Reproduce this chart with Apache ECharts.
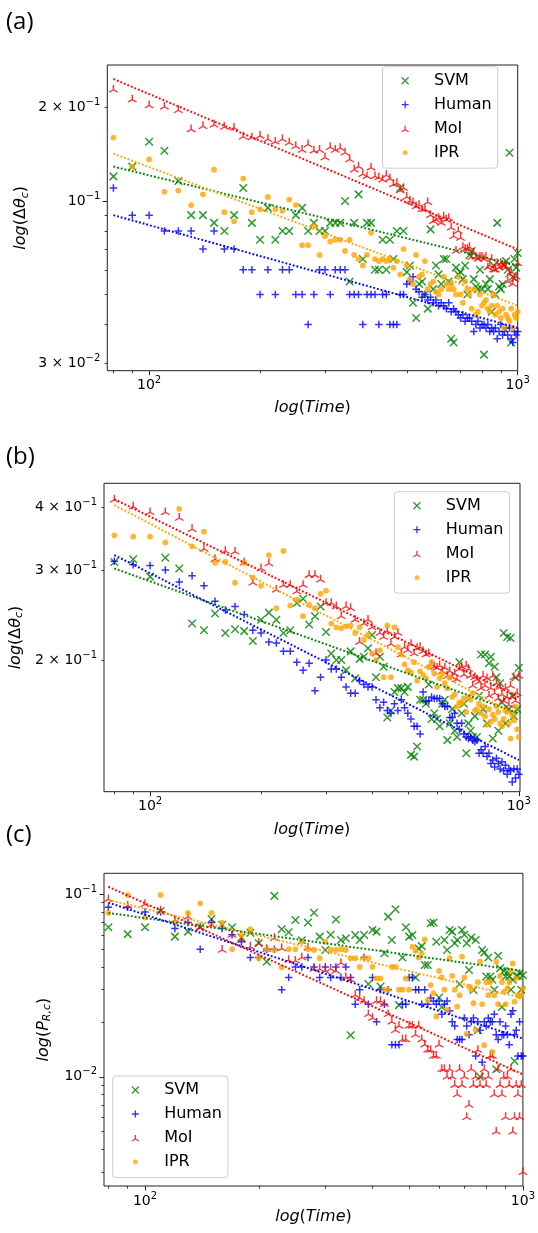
<!DOCTYPE html>
<html>
<head>
<meta charset="utf-8">
<script src="https://cdn.jsdelivr.net/npm/echarts@6/dist/echarts.min.js"></script>
<style>
html,body{margin:0;padding:0;background:#fff;}
#chart{width:538px;height:1233px;}
</style>
</head>
<body>
<div id="chart"></div>
<script>
// ---------------- DATA ----------------
const times = [
  80, 90, 100, 110, 120, 130, 140, 150, 160, 170,
  180, 190, 200, 210, 220, 230, 240, 250, 260, 270,
  280, 290, 300, 310, 320, 330, 340, 350, 360, 370,
  380, 390, 400, 410, 420, 430, 440, 450, 460, 470,
  480, 490, 500, 510, 520, 530, 540, 550, 560, 570,
  580, 590, 600, 610, 620, 630, 640, 650, 660, 670,
  680, 690, 700, 710, 720, 730, 740, 750, 760, 770,
  780, 790, 800, 810, 820, 830, 840, 850, 860, 870,
  880, 890, 900, 910, 920, 930, 940, 950, 960, 970,
  980, 990, 1000
];
const seriesNames = ['SVM', 'Human', 'MoI', 'IPR'];

// Panel (a): log(Δθc)
const svmA = [
  0.120, 0.129, 0.155, 0.145, 0.116, 0.090, 0.090, 0.085, 0.080, 0.090,
  0.110, 0.085, 0.075, 0.095, 0.075, 0.080, 0.080, 0.090, 0.095, 0.080,
  0.085, 0.080, 0.080, 0.085, 0.085, 0.085, 0.100, 0.055, 0.085, 0.105,
  0.065, 0.085, 0.085, 0.060, 0.060, 0.075, 0.060, 0.075, 0.065, 0.080,
  0.110, 0.080, 0.059, 0.062, 0.047, 0.042, 0.054, 0.055, 0.050, 0.045,
  0.081, 0.052, 0.062, 0.058, 0.054, 0.065, 0.065, 0.055, 0.036, 0.035,
  0.061, 0.058, 0.059, 0.056, 0.062, 0.050, 0.067, 0.069, 0.056, 0.053,
  0.052, 0.060, 0.052, 0.032, 0.054, 0.052, 0.056, 0.044, 0.062, 0.050,
  0.085, 0.053, 0.052, 0.054, 0.062, 0.064, 0.060, 0.143, 0.035, 0.057,
  0.065, 0.061, 0.068
];
const humanA = [
  0.110, 0.090, 0.090, 0.080, 0.080, 0.080, 0.070, 0.080, 0.070, 0.070,
  0.060, 0.060, 0.050, 0.060, 0.050, 0.060, 0.060, 0.050, 0.050, 0.040,
  0.050, 0.060, 0.060, 0.050, 0.060, 0.060, 0.060, 0.050, 0.050, 0.050,
  0.040, 0.050, 0.050, 0.050, 0.040, 0.050, 0.050, 0.040, 0.040, 0.040,
  0.050, 0.050, 0.054, 0.055, 0.057, 0.052, 0.051, 0.049, 0.050, 0.048,
  0.049, 0.047, 0.048, 0.046, 0.047, 0.046, 0.045, 0.047, 0.044, 0.045,
  0.044, 0.043, 0.042, 0.043, 0.041, 0.042, 0.042, 0.041, 0.038, 0.040,
  0.041, 0.039, 0.040, 0.040, 0.039, 0.040, 0.038, 0.039, 0.038, 0.039,
  0.036, 0.038, 0.040, 0.037, 0.038, 0.039, 0.037, 0.039, 0.036, 0.035,
  0.038, 0.037, 0.038
];
const moiA = [
  0.228, 0.212, 0.203, 0.201, 0.196, 0.170, 0.174, 0.176, 0.173, 0.172,
  0.161, 0.160, 0.162, 0.158, 0.155, 0.158, 0.154, 0.150, 0.146, 0.152,
  0.145, 0.146, 0.138, 0.149, 0.146, 0.148, 0.143, 0.136, 0.126, 0.129,
  0.122, 0.120, 0.128, 0.120, 0.119, 0.117, 0.121, 0.118, 0.113, 0.114,
  0.108, 0.110, 0.103, 0.100, 0.099, 0.096, 0.097, 0.094, 0.094, 0.099,
  0.090, 0.086, 0.087, 0.088, 0.085, 0.089, 0.087, 0.088, 0.082, 0.077,
  0.069, 0.080, 0.076, 0.071, 0.070, 0.070, 0.071, 0.066, 0.068, 0.066,
  0.065, 0.066, 0.066, 0.065, 0.066, 0.061, 0.062, 0.065, 0.060, 0.060,
  0.063, 0.061, 0.063, 0.062, 0.062, 0.061, 0.055, 0.058, 0.059, 0.054,
  0.056, 0.057, 0.063
];
const iprA = [
  0.160, 0.129, 0.136, 0.107, 0.108, 0.097, 0.105, 0.126, 0.092, 0.086,
  0.118, 0.092, 0.094, 0.103, 0.094, 0.093, 0.101, 0.097, 0.072, 0.072,
  0.083, 0.067, 0.077, 0.074, 0.075, 0.075, 0.069, 0.075, 0.067, 0.065,
  0.062, 0.067, 0.079, 0.065, 0.064, 0.065, 0.064, 0.065, 0.061, 0.064,
  0.058, 0.070, 0.062, 0.056, 0.054, 0.067, 0.057, 0.058, 0.064, 0.052,
  0.054, 0.055, 0.051, 0.050, 0.052, 0.057, 0.054, 0.052, 0.054, 0.052,
  0.050, 0.057, 0.050, 0.047, 0.055, 0.052, 0.050, 0.045, 0.052, 0.043,
  0.044, 0.050, 0.046, 0.047, 0.048, 0.045, 0.044, 0.046, 0.050, 0.043,
  0.046, 0.044, 0.042, 0.045, 0.039, 0.043, 0.042, 0.041, 0.045, 0.039,
  0.043, 0.042, 0.044
];
const svmTrendA = [0.129, 0.062];
const humanTrendA = [0.090, 0.039];
const moiTrendA = [0.247, 0.0698];
const iprTrendA = [0.142, 0.046];

// Panel (b): log(Δθc)
const svmB = [
  0.312, 0.316, 0.292, 0.318, 0.303, 0.236, 0.229, 0.247, 0.226, 0.230,
  0.228, 0.218, 0.240, 0.248, 0.240, 0.226, 0.229, 0.259, 0.264, 0.235,
  0.244, 0.255, 0.227, 0.206, 0.200, 0.200, 0.191, 0.208, 0.184, 0.201,
  0.203, 0.211, 0.224, 0.185, 0.203, 0.194, 0.154, 0.159, 0.173, 0.176,
  0.176, 0.173, 0.177, 0.130, 0.129, 0.135, 0.167, 0.167, 0.164, 0.179,
  0.153, 0.157, 0.153, 0.148, 0.164, 0.167, 0.139, 0.150, 0.160, 0.145,
  0.141, 0.198, 0.157, 0.164, 0.131, 0.150, 0.145, 0.141, 0.155, 0.141,
  0.170, 0.205, 0.160, 0.205, 0.150, 0.197, 0.203, 0.140, 0.194, 0.185,
  0.145, 0.180, 0.165, 0.226, 0.150, 0.222, 0.160, 0.221, 0.170, 0.155,
  0.185, 0.160, 0.193
];
const humanB = [
  0.313, 0.308, 0.307, 0.301, 0.285, 0.293, 0.280, 0.261, 0.251, 0.255,
  0.246, 0.229, 0.226, 0.217, 0.216, 0.208, 0.208, 0.198, 0.191, 0.197,
  0.174, 0.185, 0.200, 0.192, 0.192, 0.185, 0.177, 0.172, 0.172, 0.182,
  0.179, 0.177, 0.177, 0.167, 0.161, 0.165, 0.159, 0.157, 0.164, 0.159,
  0.167, 0.161, 0.157, 0.153, 0.148, 0.148, 0.143, 0.173, 0.166, 0.166,
  0.169, 0.168, 0.168, 0.168, 0.164, 0.162, 0.162, 0.154, 0.154, 0.157,
  0.150, 0.146, 0.150, 0.143, 0.141, 0.140, 0.141, 0.139, 0.138, 0.139,
  0.131, 0.133, 0.131, 0.135, 0.129, 0.131, 0.125, 0.127, 0.123, 0.128,
  0.125, 0.122, 0.126, 0.121, 0.124, 0.119, 0.122, 0.121, 0.115, 0.122,
  0.117, 0.122, 0.119
];
const moiB = [
  0.414, 0.401, 0.391, 0.391, 0.381, 0.362, 0.331, 0.316, 0.328, 0.327,
  0.311, 0.284, 0.303, 0.310, 0.275, 0.281, 0.281, 0.273, 0.281, 0.294,
  0.294, 0.288, 0.259, 0.259, 0.255, 0.244, 0.255, 0.253, 0.240, 0.217,
  0.236, 0.240, 0.232, 0.206, 0.226, 0.222, 0.228, 0.215, 0.222, 0.226,
  0.205, 0.212, 0.209, 0.215, 0.206, 0.211, 0.212, 0.208, 0.205, 0.206,
  0.196, 0.194, 0.193, 0.195, 0.190, 0.193, 0.186, 0.190, 0.185, 0.188,
  0.183, 0.192, 0.194, 0.187, 0.195, 0.192, 0.186, 0.178, 0.185, 0.183,
  0.181, 0.176, 0.186, 0.178, 0.184, 0.170, 0.176, 0.186, 0.172, 0.180,
  0.168, 0.177, 0.171, 0.166, 0.176, 0.169, 0.163, 0.178, 0.169, 0.185,
  0.166, 0.172, 0.186
];
const iprB = [
  0.352, 0.350, 0.350, 0.341, 0.397, 0.335, 0.358, 0.311, 0.312, 0.284,
  0.311, 0.291, 0.280, 0.322, 0.253, 0.328, 0.256, 0.263, 0.244, 0.257,
  0.253, 0.270, 0.274, 0.236, 0.232, 0.231, 0.233, 0.234, 0.226, 0.232,
  0.219, 0.224, 0.206, 0.200, 0.209, 0.185, 0.234, 0.185, 0.232, 0.212,
  0.205, 0.196, 0.191, 0.189, 0.198, 0.182, 0.190, 0.187, 0.184, 0.194,
  0.198, 0.188, 0.177, 0.184, 0.188, 0.180, 0.176, 0.185, 0.169, 0.171,
  0.162, 0.165, 0.164, 0.168, 0.158, 0.169, 0.167, 0.172, 0.159, 0.160,
  0.164, 0.157, 0.162, 0.155, 0.149, 0.160, 0.151, 0.156, 0.153, 0.162,
  0.158, 0.150, 0.148, 0.153, 0.159, 0.158, 0.150, 0.140, 0.156, 0.152,
  0.162, 0.146, 0.141
];
const svmTrendB = [0.303, 0.157];
const humanTrendB = [0.322, 0.127];
const moiTrendB = [0.415, 0.169];
const iprTrendB = [0.404, 0.155];

// Panel (c): log(P_R,c)
const svmC = [
  0.066, 0.0605, 0.066, 0.081, 0.0586, 0.0624, 0.066, 0.0732, 0.068, 0.0659,
  0.058, 0.0616, 0.0539, 0.0427, 0.098, 0.0643, 0.062, 0.0723, 0.056, 0.070,
  0.0793, 0.0586, 0.0495, 0.060, 0.0728, 0.0562, 0.0574, 0.0169, 0.0598, 0.0562,
  0.0598, 0.0322, 0.0637, 0.0624, 0.0312, 0.0475, 0.0754, 0.0562, 0.0827, 0.0247,
  0.045, 0.0659, 0.0586, 0.0598, 0.035, 0.0505, 0.052, 0.041, 0.041, 0.0694,
  0.070, 0.055, 0.0272, 0.0241, 0.0562, 0.0495, 0.0637, 0.0624, 0.0539, 0.0562,
  0.0322, 0.0637, 0.060, 0.0539, 0.0385, 0.058, 0.0299, 0.0562, 0.018, 0.010,
  0.0495, 0.048, 0.0354, 0.045, 0.0354, 0.034, 0.030, 0.011, 0.046, 0.0393,
  0.0241, 0.038, 0.0354, 0.0375, 0.0354, 0.030, 0.034, 0.0122, 0.0357, 0.0357,
  0.0369, 0.030, 0.036
];
const humanC = [
  0.085, 0.085, 0.080, 0.080, 0.065, 0.070, 0.050, 0.070, 0.065, 0.060,
  0.055, 0.045, 0.045, 0.050, 0.050, 0.030, 0.035, 0.040, 0.040, 0.045,
  0.040, 0.035, 0.040, 0.035, 0.040, 0.035, 0.040, 0.035, 0.025, 0.030,
  0.045, 0.025, 0.035, 0.020, 0.030, 0.025, 0.030, 0.015, 0.015, 0.015,
  0.025, 0.025, 0.035, 0.035, 0.030, 0.030, 0.025, 0.030, 0.025, 0.027,
  0.026, 0.025, 0.026, 0.022, 0.025, 0.026, 0.023, 0.020, 0.019, 0.016,
  0.016, 0.016, 0.021, 0.019, 0.017, 0.020, 0.021, 0.013, 0.020, 0.018,
  0.012, 0.020, 0.019, 0.021, 0.020, 0.020, 0.022, 0.017, 0.016, 0.020,
  0.017, 0.017, 0.019, 0.017, 0.015, 0.022, 0.023, 0.017, 0.018, 0.013,
  0.020, 0.013, 0.013
];
const moiC = [
  0.0938, 0.0863, 0.0882, 0.0813, 0.0723, 0.0754, 0.0659, 0.0678, 0.0495, 0.0598,
  0.0562, 0.0516, 0.0539, 0.050, 0.0574, 0.0505, 0.0436, 0.0432, 0.045, 0.051,
  0.039, 0.039, 0.038, 0.039, 0.038, 0.042, 0.035, 0.034, 0.028, 0.027,
  0.026, 0.022, 0.021, 0.026, 0.026, 0.025, 0.022, 0.020, 0.018, 0.019,
  0.016, 0.016, 0.019, 0.019, 0.017, 0.019, 0.016, 0.015, 0.014, 0.014,
  0.013, 0.013, 0.015, 0.011, 0.011, 0.010, 0.011, 0.010, 0.009, 0.008,
  0.011, 0.009, 0.010, 0.006, 0.007, 0.011, 0.009, 0.010, 0.014, 0.009,
  0.010, 0.011, 0.009, 0.010, 0.013, 0.013, 0.008, 0.005, 0.011, 0.009,
  0.008, 0.010, 0.006, 0.010, 0.009, 0.011, 0.005, 0.006, 0.009, 0.008,
  0.006, 0.009, 0.003
];
const iprC = [
  0.079, 0.0991, 0.0745, 0.0991, 0.070, 0.079, 0.0892, 0.079, 0.0699, 0.050,
  0.0598, 0.0643, 0.0446, 0.050, 0.0495, 0.0398, 0.050, 0.050, 0.055, 0.050,
  0.0495, 0.0446, 0.055, 0.0495, 0.0495, 0.050, 0.0495, 0.0446, 0.0446, 0.040,
  0.045, 0.0446, 0.040, 0.0346, 0.0346, 0.030, 0.030, 0.040, 0.040, 0.030,
  0.030, 0.0346, 0.030, 0.0516, 0.049, 0.045, 0.0475, 0.0566, 0.0263, 0.0318,
  0.0287, 0.0214, 0.038, 0.035, 0.030, 0.0232, 0.0446, 0.0357, 0.030, 0.0242,
  0.028, 0.0455, 0.035, 0.0172, 0.0312, 0.030, 0.0253, 0.0181, 0.033, 0.0427,
  0.025, 0.0149, 0.033, 0.028, 0.033, 0.0137, 0.028, 0.0427, 0.025, 0.0357,
  0.033, 0.0292, 0.025, 0.0305, 0.033, 0.038, 0.0418, 0.0258, 0.0346, 0.028,
  0.0275, 0.028, 0.0305
];
const svmTrendC = [0.079, 0.038];
const humanTrendC = [0.090, 0.0162];
const moiTrendC = [0.110, 0.0103];
const iprTrendC = [0.093, 0.027];

const trendTimes = [80, 1000];

// Tick values and tick labels
const xMajorTicks = [100, 1000];
const xMinorTicks = [80, 90, 200, 300, 400, 500, 600, 700, 800, 900];
const xTickLabels = [100, 1000];
const yMajorTicksA = [0.1];
const yMinorTicksA = [0.03, 0.04, 0.05, 0.06, 0.07, 0.08, 0.09, 0.2];
const yTickLabelsA = [0.2, 0.1, 0.03];
const yMajorTicksB = [];
const yMinorTicksB = [0.2, 0.3, 0.4];
const yTickLabelsB = [0.2, 0.3, 0.4];
const yMajorTicksC = [0.01, 0.1];
const yMinorTicksC = [0.003, 0.004, 0.005, 0.006, 0.007, 0.008, 0.009,
                      0.02, 0.03, 0.04, 0.05, 0.06, 0.07, 0.08, 0.09];
const yTickLabelsC = [0.1, 0.01];

// ---------------- STYLE / LAYOUT ----------------
const FONT = 'DejaVu Sans';
const COLORS = {SVM: '#008000', Human: '#0000ff', MoI: '#ff0000', IPR: '#ffa500'};
const SYM = {
  SVM: 'path://M0,0L10,10M10,0L0,10',
  Human: 'path://M5,0L5,10M0,5L10,5',
  MoI: 'path://M8.66,10L8.66,0M8.66,10L0,15M8.66,10L17.32,15',
  IPR: 'circle'
};
const LEGEND_DOT = 'path://M0,0L0,0M12,12L12,12M6,1.9A4.1,4.1,0,1,0,6,10.1A4.1,4.1,0,1,0,6,1.9Z';
const LEGEND_SPACER = '\u00a0\u00a0\u00a0\u00a0';

const panels = [
  {
    label: '(a)', labelTop: 10,
    grid: {left: 107.3, top: 65, width: 410.4, height: 305.7},
    x: [77.0, 1000], y: [0.0284, 0.274],
    data: [svmA, humanA, moiA, iprA],
    trends: [svmTrendA, humanTrendA, moiTrendA, iprTrendA],
    yMajor: yMajorTicksA, yMinor: yMinorTicksA, yLabels: yTickLabelsA,
    yName: '{i|log}{n|(Δ}{i|θ}{sub|c}{n|)}', yNameGap: 77, xNameGap: 29,
    legend: {left: 382.5, top: 66.7}
  },
  {
    label: '(b)', labelTop: 445,
    grid: {left: 104, top: 483.3, width: 416, height: 308.4},
    x: [75.0, 1007.5], y: [0.110, 0.446],
    data: [svmB, humanB, moiB, iprB],
    trends: [svmTrendB, humanTrendB, moiTrendB, iprTrendB],
    yMajor: yMajorTicksB, yMinor: yMinorTicksB, yLabels: yTickLabelsB,
    yName: '{i|log}{n|(Δ}{i|θ}{sub|c}{n|)}', yNameGap: 79, xNameGap: 30,
    legend: {left: 394.3, top: 491.7}
  },
  {
    label: '(c)', labelTop: 823,
    grid: {left: 104, top: 873.3, width: 419.3, height: 312.7},
    x: [77.9, 1000], y: [0.00252, 0.1303],
    data: [svmC, humanC, moiC, iprC],
    trends: [svmTrendC, humanTrendC, moiTrendC, iprTrendC],
    yMajor: yMajorTicksC, yMinor: yMinorTicksC, yLabels: yTickLabelsC,
    yName: '{i|log}{n|(}{i|P}{sub|R,c}{n|)}', yNameGap: 51, xNameGap: 23,
    legend: {left: 112.7, top: 1076}
  }
];

function expStr(e) { return e < 0 ? '\u2212' + (-e) : String(e); }
function powLabel(v) {
  let e = Math.floor(v + 1e-9);
  let m = Math.round(Math.pow(10, v - e));
  if (m >= 10) { m = 1; e += 1; }
  const s = '{s|' + expStr(e) + '}';
  return m === 1 ? '{b|10}' + s : '{b|' + m + ' \u00d7 10}' + s;
}
const tickRich = {
  b: {fontSize: 14, fontFamily: FONT, color: '#000'},
  s: {fontSize: 10, fontFamily: FONT, color: '#000', padding: [0, 0, 10, 0]}
};
const nameRich = {
  i: {fontSize: 16, fontStyle: 'italic', fontFamily: FONT, color: '#000'},
  n: {fontSize: 16, fontFamily: FONT, color: '#000'},
  sub: {fontSize: 11, fontStyle: 'italic', fontFamily: FONT, color: '#000', padding: [7, 0, 0, 0]}
};
const L10 = v => Math.log10(v);
const TICK_COLOR = '#222';

const option = {
  animation: false,
  backgroundColor: '#fff',
  title: [], grid: [], xAxis: [], yAxis: [], series: [], legend: []
};

panels.forEach((p, pi) => {
  option.title.push({
    text: p.label, left: 6, top: p.labelTop, padding: 0,
    textStyle: {fontSize: 24, fontWeight: 'normal', fontFamily: 'Open Sans', color: '#000'}
  });
  option.grid.push(Object.assign({show: true, borderColor: '#222', borderWidth: 1,
    backgroundColor: 'transparent', containLabel: false}, p.grid));

  const xr = [L10(p.x[0]), L10(p.x[1])];
  const yr = [L10(p.y[0]), L10(p.y[1])];

  // data axis (log) carrying the axis name
  option.xAxis.push({
    type: 'log', logBase: 10, gridIndex: pi, min: p.x[0], max: p.x[1], position: 'bottom',
    axisLine: {show: false, onZero: false}, axisTick: {show: false}, axisLabel: {show: false},
    splitLine: {show: false},
    name: '{i|log}{n|(}{i|Time}{n|)}', nameLocation: 'middle', nameGap: p.xNameGap,
    nameTextStyle: {rich: nameRich}
  });
  // major ticks + labels
  option.xAxis.push({
    type: 'value', gridIndex: pi, min: xr[0], max: xr[1], position: 'bottom',
    axisLine: {show: false, onZero: false}, splitLine: {show: false},
    axisTick: {show: true, customValues: xMajorTicks.map(L10), length: 4.5,
      lineStyle: {color: TICK_COLOR, width: 1}},
    axisLabel: {show: true, customValues: xTickLabels.map(L10), margin: 5,
      formatter: powLabel, rich: tickRich}
  });
  // minor ticks
  option.xAxis.push({
    type: 'value', gridIndex: pi, min: xr[0], max: xr[1], position: 'bottom',
    axisLine: {show: false, onZero: false}, splitLine: {show: false},
    axisTick: {show: true, customValues: xMinorTicks.map(L10), length: 2.6,
      lineStyle: {color: TICK_COLOR, width: 0.9}},
    axisLabel: {show: false}
  });

  option.yAxis.push({
    type: 'log', logBase: 10, gridIndex: pi, min: p.y[0], max: p.y[1], position: 'left',
    axisLine: {show: false, onZero: false}, axisTick: {show: false}, axisLabel: {show: false},
    splitLine: {show: false},
    name: p.yName, nameLocation: 'middle', nameGap: p.yNameGap, nameRotate: 90,
    nameTextStyle: {rich: nameRich}
  });
  option.yAxis.push({
    type: 'value', gridIndex: pi, min: yr[0], max: yr[1], position: 'left',
    axisLine: {show: false, onZero: false}, splitLine: {show: false},
    axisTick: {show: p.yMajor.length > 0, customValues: p.yMajor.length ? p.yMajor.map(L10) : undefined,
      length: 4.5, lineStyle: {color: TICK_COLOR, width: 1}},
    axisLabel: {show: true, customValues: p.yLabels.map(L10), margin: 7,
      formatter: powLabel, rich: tickRich}
  });
  option.yAxis.push({
    type: 'value', gridIndex: pi, min: yr[0], max: yr[1], position: 'left',
    axisLine: {show: false, onZero: false}, splitLine: {show: false},
    axisTick: {show: true, customValues: p.yMinor.map(L10), length: 2.6,
      lineStyle: {color: TICK_COLOR, width: 0.9}},
    axisLabel: {show: false}
  });

  const xi = pi * 3, yi = pi * 3;
  seriesNames.forEach((name, si) => {
    const c = COLORS[name];
    const vals = p.data[si];
    let size = 7.5, offset = [0, 0], bw = 1.5;
    if (name === 'MoI') { size = [8.5, 7.4]; offset = [0, -1.2]; bw = 1.35; }
    if (name === 'IPR') { size = 5.8; }
    option.series.push({
      name: name, type: 'scatter', xAxisIndex: xi, yAxisIndex: yi,
      data: times.map((t, k) => [t, vals[k]]),
      symbol: SYM[name], symbolSize: size, symbolOffset: offset,
      itemStyle: name === 'IPR' ? {color: c, borderWidth: 0}
        : {color: c, borderColor: c, borderWidth: bw},
      emphasis: {disabled: true}, silent: true, z: 2 + si * 0.01
    });
  });
  seriesNames.forEach((name, si) => {
    const c = COLORS[name];
    const tr = p.trends[si];
    option.series.push({
      name: name + ' fit', type: 'line', xAxisIndex: xi, yAxisIndex: yi,
      data: trendTimes.map((t, k) => [t, tr[k]]),
      symbol: 'none', silent: true,
      lineStyle: {color: c, width: 2, type: [1.8, 2.0], cap: 'butt'},
      z: 4
    });
  });

  option.legend.push({
    orient: 'vertical', left: p.legend.left, top: p.legend.top,
    selectedMode: false, itemWidth: 7, itemHeight: 7, itemGap: 4,
    padding: [4, 6, 5.5, 18.5],
    backgroundColor: 'rgba(255,255,255,0.8)', borderColor: '#cccccc', borderWidth: 1,
    borderRadius: 3, symbolKeepAspect: true,
    formatter: name => LEGEND_SPACER + name,
    textStyle: {fontSize: 16, fontFamily: FONT, color: '#000', lineHeight: 20},
    data: seriesNames.map(name => ({
      name: name,
      icon: name === 'IPR' ? LEGEND_DOT : SYM[name],
      itemStyle: name === 'IPR' ? {color: COLORS[name], borderWidth: 0}
        : {color: COLORS[name], borderColor: COLORS[name], borderWidth: 1.3}
    }))
  });
});

const chart = echarts.init(document.getElementById('chart'), null, {renderer: 'canvas'});
chart.setOption(option);
</script>
</body>
</html>
